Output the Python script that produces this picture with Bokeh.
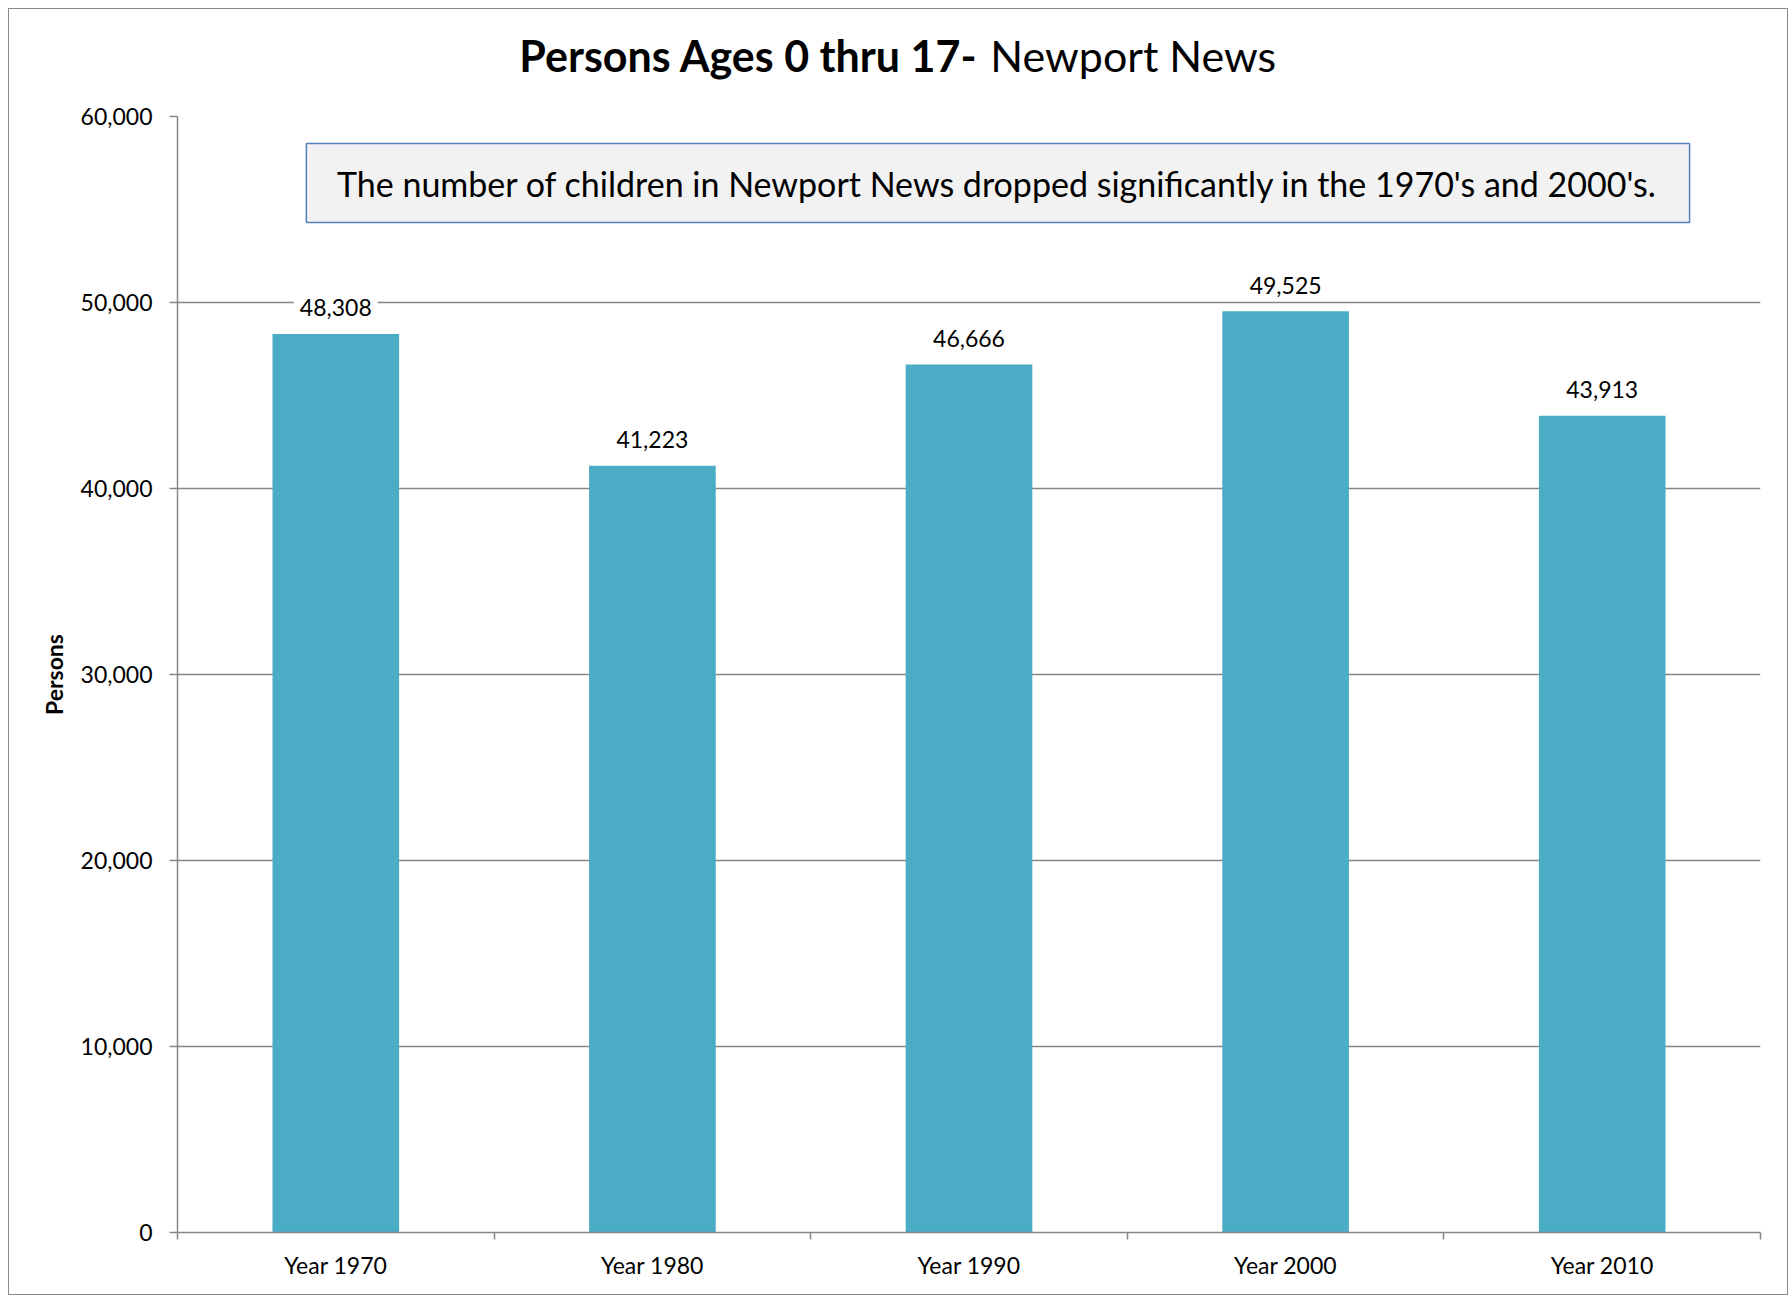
import numpy as np
from bokeh.plotting import figure
from bokeh.layouts import column
from bokeh.models import (Range1d, FixedTicker, SingleIntervalTicker, NumeralTickFormatter,
                          ColumnDataSource, Label, BoxAnnotation)
from bokeh.core.properties import value
from bokeh.embed import file_html
from bokeh.resources import INLINE

# ---- data ----
categories = ["Year 1970", "Year 1980", "Year 1990", "Year 2000", "Year 2010"]
persons = [48308, 41223, 46666, 49525, 43913]
y_max = 60000
y_step = 10000
title_bold = "Persons Ages 0 thru 17-"
title_normal = "Newport News"
note = "The number of children in Newport News dropped significantly in the 1970's and 2000's."

FONT = "Lato"
BAR = "#4bacc6"
GRID = "#868686"

W = 1778
TOP_H = 90
H = 1285 - TOP_H

# ---- title strip ----
t = figure(width=W, height=TOP_H, x_range=Range1d(0, W), y_range=Range1d(0, TOP_H),
           output_backend="svg", toolbar_location=None, min_border=0,
           x_axis_location=None, y_axis_location=None)
t.outline_line_color = None
t.xgrid.grid_line_color = None
t.ygrid.grid_line_color = None
t.add_layout(Label(x=899, y=44, text=title_bold, text_align="right", text_baseline="middle",
                   text_font=FONT, text_font_style="bold", text_font_size="43px", text_color="black"))
t.add_layout(Label(x=913, y=44, text=title_normal, text_align="left", text_baseline="middle",
                   text_font=FONT, text_font_size="43px", text_color="black"))

# ---- chart ----
n = len(categories)
xs = [float(i) + 0.5 for i in range(n)]
source = ColumnDataSource(dict(x=xs, persons=persons,
                               label=[f"{v:,}" for v in persons]))

p = figure(width=W, height=H, x_range=Range1d(0, n), y_range=Range1d(0, y_max),
           output_backend="svg", toolbar_location=None,
           min_border_left=168, min_border_right=27, min_border_top=107 - TOP_H, min_border_bottom=62)
p.outline_line_color = None
p.background_fill_color = "white"
p.border_fill_color = "white"

p.vbar(x="x", top="persons", width=0.4, source=source, fill_color=BAR, line_color=None)
p.text(x="x", y="persons", text="label", source=source, text_align="center",
       text_baseline="middle", y_offset=-26, text_font=value(FONT),
       text_font_size=value("23px"), text_color="black",
       background_fill_color="white", padding=6)

# grids
p.xgrid.grid_line_color = None
p.ygrid.grid_line_color = GRID
p.ygrid.grid_line_width = 1.5

# y axis
yax = p.yaxis[0]
yax.ticker = SingleIntervalTicker(interval=y_step, num_minor_ticks=0)
yax.formatter = NumeralTickFormatter(format="0,0")
yax.axis_line_color = GRID
yax.axis_line_width = 1.5
yax.major_tick_line_color = GRID
yax.major_tick_line_width = 1.5
yax.major_tick_out = 8
yax.major_tick_in = 0
yax.minor_tick_line_color = None
yax.major_label_text_font = FONT
yax.major_label_text_font_size = "23px"
yax.major_label_text_color = "black"
yax.major_label_standoff = 17
yax.axis_label = "Persons"
yax.axis_label_text_font = FONT
yax.axis_label_text_font_style = "bold"
yax.axis_label_text_font_size = "23px"
yax.axis_label_text_color = "black"
yax.axis_label_standoff = 10

# x axis: labels at category centres, ticks at category boundaries
xax = p.xaxis[0]
xax.ticker = FixedTicker(ticks=xs, minor_ticks=[float(i) for i in range(n + 1)])
xax.major_label_overrides = {x: c for x, c in zip(xs, categories)}
xax.axis_line_color = GRID
xax.axis_line_width = 1.5
xax.major_tick_line_color = None
xax.major_tick_out = 0
xax.major_tick_in = 0
xax.minor_tick_line_color = GRID
xax.minor_tick_line_width = 1.5
xax.minor_tick_out = 7
xax.minor_tick_in = 0
xax.major_label_text_font = FONT
xax.major_label_text_font_size = "23px"
xax.major_label_text_color = "black"
xax.major_label_standoff = 11

# annotation box
p.add_layout(BoxAnnotation(left=0.407, right=4.776, top=58548, bottom=54301,
                           fill_color="#f2f2f2", fill_alpha=1.0,
                           line_color="#4f81bd", line_alpha=1.0, line_width=1.5))
p.add_layout(Label(x=2.59, y=56398, text=note, text_align="center", text_baseline="middle",
                   text_font=FONT, text_font_size="34px", text_color="black"))

layout = column(t, p, spacing=0,
                styles={"border": "1px solid #8a8a8a", "margin": "8px"})

open("out.html", "w").write(file_html(layout, INLINE))
